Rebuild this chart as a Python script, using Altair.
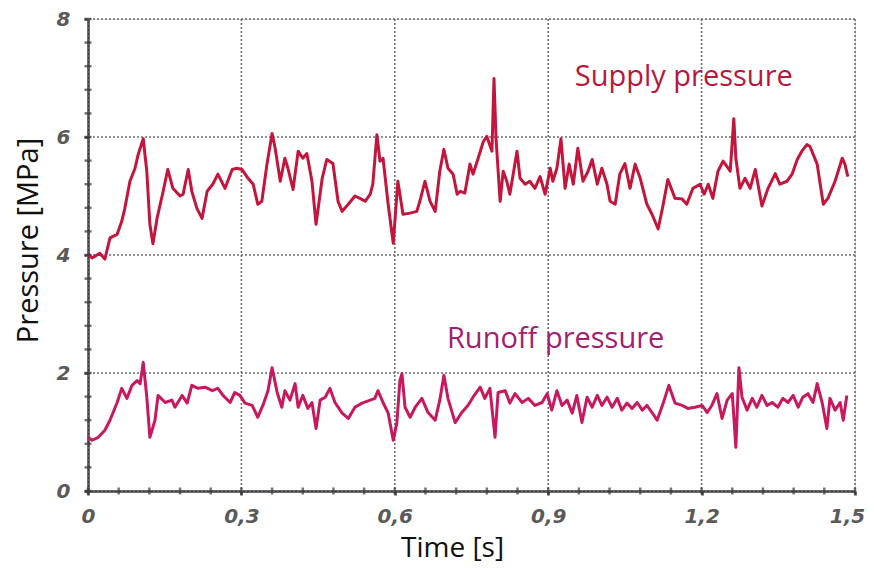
import altair as alt
import pandas as pd

# ---- data ----
supply_t = [0.000, 0.008, 0.023, 0.033, 0.043, 0.057, 0.066, 0.072, 0.082, 0.092, 0.098, 0.108,
            0.115, 0.121, 0.127, 0.135, 0.147, 0.156, 0.166, 0.180, 0.186, 0.196, 0.203, 0.213,
            0.223, 0.233, 0.244, 0.254, 0.268, 0.282, 0.291, 0.301, 0.313, 0.323, 0.332, 0.340,
            0.350, 0.360, 0.366, 0.376, 0.385, 0.391, 0.401, 0.411, 0.420, 0.428, 0.438, 0.446,
            0.458, 0.467, 0.479, 0.489, 0.497, 0.509, 0.522, 0.532, 0.542, 0.552, 0.557, 0.565,
            0.571, 0.577, 0.587, 0.597, 0.606, 0.616, 0.630, 0.643, 0.649, 0.659, 0.669, 0.679,
            0.688, 0.696, 0.704, 0.714, 0.722, 0.728, 0.737, 0.747, 0.753, 0.763, 0.773, 0.780,
            0.790, 0.794, 0.798, 0.806, 0.812, 0.819, 0.825, 0.839, 0.845, 0.855, 0.864, 0.874,
            0.884, 0.894, 0.904, 0.909, 0.917, 0.925, 0.933, 0.941, 0.949, 0.958, 0.968, 0.978,
            0.986, 0.996, 1.005, 1.015, 1.021, 1.031, 1.040, 1.050, 1.060, 1.070, 1.080, 1.093,
            1.103, 1.115, 1.125, 1.134, 1.148, 1.162, 1.171, 1.183, 1.197, 1.205, 1.213, 1.222,
            1.232, 1.242, 1.256, 1.263, 1.267, 1.275, 1.285, 1.295, 1.305, 1.318, 1.330, 1.344,
            1.353, 1.367, 1.377, 1.387, 1.396, 1.406, 1.412, 1.426, 1.438, 1.447, 1.461, 1.475,
            1.480, 1.486]
supply_p = [4.02, 3.95, 4.03, 3.93, 4.29, 4.35, 4.57, 4.79, 5.25, 5.47, 5.70, 5.97,
            5.42, 4.52, 4.19, 4.62, 5.08, 5.45, 5.13, 5.00, 5.03, 5.45, 5.08, 4.79,
            4.62, 5.08, 5.20, 5.37, 5.13, 5.45, 5.47, 5.45, 5.30, 5.20, 4.86, 4.91,
            5.54, 6.06, 5.81, 5.25, 5.64, 5.47, 5.11, 5.76, 5.64, 5.72, 5.25, 4.52,
            5.30, 5.62, 5.55, 4.91, 4.74, 4.86, 5.00, 4.96, 4.91, 5.03, 5.20, 6.04,
            5.59, 5.64, 4.86, 4.20, 5.25, 4.69, 4.71, 4.74, 4.91, 5.25, 4.91, 4.74,
            5.42, 5.79, 5.47, 5.37, 5.03, 5.08, 5.05, 5.54, 5.37, 5.64, 5.92, 6.01,
            5.76, 6.99, 5.97, 4.91, 5.42, 5.25, 5.03, 5.76, 5.30, 5.20, 5.25, 5.13,
            5.33, 5.03, 5.47, 5.25, 5.47, 5.97, 5.13, 5.54, 5.20, 5.81, 5.25, 5.42,
            5.62, 5.20, 5.47, 5.20, 4.91, 4.86, 5.37, 5.55, 5.13, 5.54, 5.30, 4.86,
            4.69, 4.44, 4.86, 5.28, 4.96, 4.95, 4.86, 5.13, 5.20, 5.03, 5.20, 4.96,
            5.42, 5.59, 5.42, 6.31, 5.64, 5.13, 5.30, 5.13, 5.45, 4.83, 5.13, 5.38,
            5.20, 5.25, 5.37, 5.62, 5.76, 5.87, 5.84, 5.54, 4.86, 4.96, 5.25, 5.64,
            5.55, 5.33]

runoff_t = [0.000, 0.008, 0.020, 0.033, 0.043, 0.057, 0.066, 0.076, 0.086, 0.096, 0.102, 0.108,
            0.115, 0.121, 0.131, 0.137, 0.151, 0.164, 0.170, 0.184, 0.194, 0.203, 0.215, 0.229,
            0.243, 0.254, 0.264, 0.278, 0.287, 0.297, 0.307, 0.321, 0.332, 0.342, 0.352, 0.360,
            0.370, 0.379, 0.385, 0.395, 0.405, 0.411, 0.420, 0.430, 0.438, 0.446, 0.454, 0.464,
            0.473, 0.483, 0.497, 0.509, 0.522, 0.536, 0.552, 0.561, 0.567, 0.577, 0.587, 0.597,
            0.604, 0.610, 0.614, 0.620, 0.630, 0.640, 0.653, 0.665, 0.679, 0.688, 0.696, 0.704,
            0.718, 0.731, 0.743, 0.753, 0.767, 0.776, 0.786, 0.796, 0.802, 0.816, 0.825, 0.835,
            0.849, 0.861, 0.874, 0.888, 0.898, 0.907, 0.917, 0.927, 0.937, 0.947, 0.956, 0.966,
            0.976, 0.986, 0.996, 1.005, 1.015, 1.025, 1.035, 1.044, 1.054, 1.064, 1.074, 1.084,
            1.093, 1.103, 1.113, 1.125, 1.136, 1.148, 1.162, 1.173, 1.187, 1.201, 1.211, 1.220,
            1.230, 1.240, 1.250, 1.260, 1.267, 1.273, 1.279, 1.289, 1.299, 1.308, 1.318, 1.328,
            1.338, 1.349, 1.359, 1.369, 1.379, 1.389, 1.398, 1.408, 1.418, 1.426, 1.436, 1.445,
            1.451, 1.461, 1.471, 1.477, 1.484]
runoff_p = [0.91, 0.86, 0.91, 1.03, 1.20, 1.50, 1.74, 1.57, 1.79, 1.87, 1.82, 2.18,
            1.59, 0.91, 1.20, 1.62, 1.50, 1.54, 1.42, 1.62, 1.49, 1.79, 1.74, 1.76,
            1.70, 1.74, 1.62, 1.50, 1.67, 1.62, 1.49, 1.45, 1.25, 1.45, 1.70, 2.09,
            1.67, 1.42, 1.70, 1.54, 1.82, 1.42, 1.62, 1.40, 1.50, 1.06, 1.54, 1.59,
            1.74, 1.50, 1.32, 1.23, 1.42, 1.49, 1.54, 1.57, 1.70, 1.50, 1.32, 0.86,
            1.15, 1.87, 1.99, 1.42, 1.25, 1.42, 1.57, 1.33, 1.20, 1.54, 1.96, 1.57,
            1.16, 1.33, 1.45, 1.59, 1.76, 1.57, 1.74, 0.91, 1.67, 1.70, 1.49, 1.65,
            1.50, 1.57, 1.45, 1.50, 1.65, 1.37, 1.70, 1.45, 1.54, 1.32, 1.62, 1.16,
            1.59, 1.42, 1.62, 1.45, 1.59, 1.42, 1.57, 1.37, 1.49, 1.40, 1.50, 1.37,
            1.45, 1.33, 1.20, 1.49, 1.79, 1.49, 1.45, 1.40, 1.42, 1.45, 1.33, 1.45,
            1.65, 1.23, 1.54, 1.65, 0.74, 2.09, 1.59, 1.37, 1.57, 1.42, 1.62, 1.45,
            1.50, 1.42, 1.57, 1.50, 1.62, 1.42, 1.59, 1.65, 1.50, 1.82, 1.49, 1.06,
            1.57, 1.37, 1.50, 1.20, 1.62]

x_major = [0.0, 0.3, 0.6, 0.9, 1.2, 1.5]
y_major = [0, 2, 4, 6, 8]
x_minor = [round(i * 0.06, 2) for i in range(26)]
y_minor = [round(i * 0.4, 1) for i in range(21)]

label_names = ["Supply pressure", "Runoff pressure"]
label_t = [0.952, 0.702]
label_p = [7.02, 2.58]
label_colors = ["#b8183e", "#a3206e"]

supply_color = "#c4163c"
runoff_color = "#c8185e"

# ---- chart ----
W, H = 767, 472
xs = alt.Scale(domain=[0, 1.5], nice=False, zero=False)
ys = alt.Scale(domain=[0, 8], nice=False)

df_s = pd.DataFrame({"t": supply_t, "p": supply_p})
df_r = pd.DataFrame({"t": runoff_t, "p": runoff_p})

x_label_expr = "datum.value == 0 ? '0' : replace(format(datum.value, '.1f'), '.', ',')"

axis_common = dict(grid=False, domainColor="#3a3a3a", domainWidth=2.5,
                   tickColor="#3a3a3a", tickWidth=2.5, tickSize=4,
                   labelFont="DejaVu Sans", labelFontStyle="italic", labelFontWeight="bold",
                   labelColor="#5a5a5a", labelFontSize=20, labelOverlap=False, labelBound=False,
                   labelFlush=False,
                   titleFont="Open Sans", titleFontWeight="normal", titleColor="#111111")

grid_style = dict(color="#6e6e6e", strokeDash=[2, 2], strokeWidth=1.6)

gx = alt.Chart(pd.DataFrame({"t": x_major})).mark_rule(**grid_style).encode(
    x=alt.X("t:Q", scale=xs))
gy = alt.Chart(pd.DataFrame({"p": y_major})).mark_rule(**grid_style).encode(
    y=alt.Y("p:Q", scale=ys))

line_s = alt.Chart(df_s).mark_line(color=supply_color, strokeWidth=3, strokeJoin="round").encode(
    x=alt.X("t:Q", scale=xs, title="Time [s]",
            axis=alt.Axis(values=x_major, labelExpr=x_label_expr, labelPadding=11,
                          labelOffset=alt.ExprRef("datum.value == 1.5 ? -8 : 0"),
                          titlePadding=8, titleX=364, titleFontSize=28, **axis_common)),
    y=alt.Y("p:Q", scale=ys, title="Pressure [MPa]",
            axis=alt.Axis(values=y_major, format="d", labelPadding=14,
                          titlePadding=13, titleY=221, titleFontSize=29, **axis_common)),
)

line_r = alt.Chart(df_r).mark_line(color=runoff_color, strokeWidth=3, strokeJoin="round").encode(
    x=alt.X("t:Q", scale=xs),
    y=alt.Y("p:Q", scale=ys),
)

minor_x = alt.Chart(pd.DataFrame({"t": x_minor})).mark_tick(
    orient="vertical", color="#3a3a3a", thickness=2.5, size=7
).encode(x=alt.X("t:Q", scale=xs), y=alt.datum(0, scale=ys))

minor_y = alt.Chart(pd.DataFrame({"p": y_minor})).mark_tick(
    orient="horizontal", color="#3a3a3a", thickness=2.5, size=7
).encode(y=alt.Y("p:Q", scale=ys), x=alt.datum(0, scale=xs))

df_lab = pd.DataFrame({"name": label_names, "t": label_t, "p": label_p, "c": label_colors})
labels = alt.Chart(df_lab).mark_text(
    align="left", baseline="middle", font="Open Sans", fontSize=29
).encode(
    x=alt.X("t:Q", scale=xs), y=alt.Y("p:Q", scale=ys), text="name:N",
    color=alt.Color("c:N", scale=None, legend=None),
)

chart = alt.layer(gx, gy, line_s, line_r, minor_x, minor_y, labels).properties(
    width=W, height=H,
    autosize=alt.AutoSizeParams(type="none"),
    padding={"left": 80, "top": 11, "right": 11, "bottom": 76},
).configure_view(stroke=None).configure(background="white")

chart.save("out.html", embed_options={"renderer": "svg", "actions": False})
